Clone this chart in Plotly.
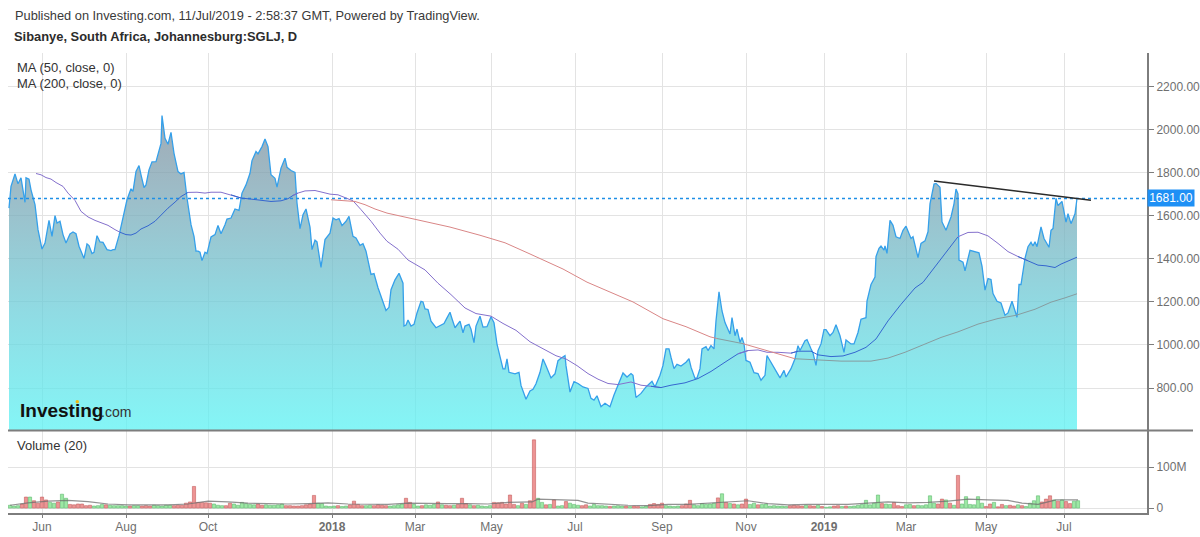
import plotly.graph_objects as go

# ---------- data ----------
price_pts = [
(0.5,1636),(1.5,1737),(3.5,1795),(5,1749),(6.5,1777),(7.5,1721),(8.5,1663),(9,1777),(10.5,1771),(11.5,1721),
(13.5,1652),(15,1536),(17,1446),(18.5,1474),(20.5,1579),(22,1505),(23.5,1601),(24.5,1567),(26,1575),(27.5,1513),
(29,1474),(31,1516),(32.5,1525),(34,1517),(35.5,1459),(38,1402),(39.5,1470),(40.5,1462),(42,1425),(43,1431),
(44.5,1508),(46,1479),(47.5,1477),(49.5,1443),(51.5,1439),(52.5,1443),(53.5,1443),(55.5,1508),(57.5,1598),(59.5,1675),
(61.5,1726),(62.5,1714),(64,1806),(65.5,1834),(66.5,1791),(68,1732),(69,1744),(70.5,1814),(72,1851),(74,1852),
(76.5,1937),(77,2066),(78.5,1961),(80,1933),(81.5,1988),(83,1891),(85,1806),(86.5,1795),(88,1802),(89.5,1683),
(91.5,1559),(93,1505),(94,1436),(95,1436),(96,1431),(97,1392),(98.5,1431),(99.5,1425),(101.5,1502),(103.5,1513),
(105,1555),(106.5,1517),(108.5,1559),(109.5,1585),(111.5,1590),(113.5,1632),(115.5,1626),(117,1706),(119,1744),(121,1798),
(122,1857),(124,1899),(125,1888),(127,1922),(128.5,1957),(130,1922),(131.5,1791),(133.5,1775),(134.5,1734),(136.5,1822),
(138.5,1868),(139.5,1826),(141.5,1811),(143.5,1802),(144.5,1660),(146,1541),(147.5,1605),(149,1632),(151,1548),(152,1443),
(153.5,1487),(154.5,1479),(156.5,1361),(158.5,1490),(161,1520),(162.5,1590),(164,1582),(165.5,1587),(167,1555),(169,1575),
(170.5,1598),(172.5,1505),(174,1497),(176,1463),(177.5,1471),(179,1436),(181.5,1328),(183,1332),(185,1266),(187,1212),
(189,1160),(190.5,1175),(191.5,1257),(193.5,1303),(195.5,1333),(197.5,1287),(198,1088),(199,1093),(200,1116),(201.5,1088),
(203,1096),(204.5,1149),(206.5,1203),(207.5,1200),(208.5,1168),(210,1165),(211.5,1111),(214,1080),(216,1091),(218,1100),
(219.5,1126),(221,1152),(222,1122),(223.5,1080),(226,1111),(227.5,1057),(228.5,1088),(230.5,1096),(231.5,1073),(233,1011),
(234,1088),(236,1134),(237.5,1083),(239.5,1085),(241.5,1131),(243,1103),(244.5,1004),(246,950),(247.5,889),(248.5,889),
(249.5,935),(250.5,873),(252,870),(253.5,866),(255.5,873),(256.5,812),(259,748),(261,786),(262.5,794),(264,820),
(266,873),(267.5,935),(269,904),(271.5,847),(273.5,866),(275,927),(276.5,938),(278.5,950),(279,904),(281,781),
(283,830),(284.5,824),(285,821),(287.5,805),(290,798),(291.5,752),(293,744),(294.5,764),(296.5,713),(298.5,729),
(299.5,724),(301,713),(303,767),(305,813),(307.5,870),(309.5,851),(311.5,867),(312.5,859),(314,756),(316.5,775),
(319,805),(322,831),(323.5,805),(326,859),(327.5,905),(329,982),(330.5,982),(331.5,943),(333,890),(334.5,910),
(336.5,902),(339,920),(340.5,936),(341.5,897),(343.5,844),(344.5,847),(346,890),(347,982),(349,992),(350,974),
(351.5,997),(353,982),(354,1112),(355.5,1247),(357,1158),(358.5,1104),(361,1051),(362,1127),(363.5,1043),(364.5,1074),
(366,1012),(367,1035),(368,1005),(369,928),(371,920),(373,871),(375,867),(376.5,836),(378.5,859),(379.5,951),
(380,943),(382.5,905),(385,867),(386,847),(388,882),(389,851),(391.5,890),(393.5,936),(395,997),(396,974),
(398.5,1020),(399.5,1025),(401.5,982),(402.5,963),(404,905),(405,974),(406.5,1005),(408,1071),(409,1071),(411,1043),
(412.5,1058),(414,1094),(416,1043),(418,966),(419,1023),(421.5,1005),(423,1005),(425,1058),(426.5,1120),(429,1127),
(429.5,1204),(431.5,1281),(433.5,1316),(434,1411),(435.5,1449),(436.5,1460),(438,1441),(438.5,1460),(439.5,1426),(441,1579),
(442.5,1556),(444,1503),(446,1495),(447.5,1533),(449,1552),(451.5,1495),(452.5,1503),(455,1406),(456.5,1472),(458.5,1484),
(460,1526),(461,1656),(463,1748),(464,1751),(466,1733),(467,1572),(469,1533),(471.5,1595),(473,1656),(474,1725),
(475,1702),(475.5,1395),(477.5,1385),(478.5,1345),(481,1440),(483.5,1432),(485.5,1428),(487,1366),(488.5,1255),(490,1309),
(491.5,1304),(492.5,1239),(494.5,1203),(496.5,1195),(498.5,1138),(500,1149),(502,1203),(504.5,1129),(505.5,1281),(506.5,1281),
(508.5,1403),(510,1457),(511.5,1477),(512.5,1460),(513.5,1480),(514.5,1457),(515.5,1510),(516.5,1549),(518,1495),(520.5,1454),
(521.5,1533),(522.5,1541),(524,1682),(525,1648),(527,1667),(529,1571),(530,1610),(531.5,1564),(533.5,1610),(534.5,1681),
]
session = [p[0] for p in price_pts]
close = [p[1] for p in price_pts]

ma50_pts = [
(14,1797),(16.5,1791),(19,1778),(21.5,1771),(24,1755),(27.5,1737),(30,1706),(33.5,1672),(36.5,1621),(40,1595),
(43.5,1579),(46.5,1567),(50,1556),(53.5,1536),(56,1524),(59,1513),(61.5,1511),(64,1520),(66.5,1539),(70,1554),
(73.5,1575),(76.5,1605),(80,1636),(83.5,1664),(86.5,1690),(90,1709),(94.5,1710),(98.5,1706),(101.5,1710),(106.5,1710),
(111.5,1698),(116.5,1683),(121.5,1678),(126.5,1672),(131.5,1667),(136.5,1670),(140,1680),(142.5,1695),(145,1706),(148.5,1716),
(153.5,1718),(157.5,1709),(161,1701),(165,1698),(168.5,1686),(172.5,1670),(176.5,1629),(181.5,1575),(186,1520),(189.5,1482),
(195,1445),(200,1395),(208.5,1349),(215,1287),(221.5,1234),(228.5,1172),(234,1146),(241.5,1134),(247.5,1100),(254,1068),
(261,1015),(267.5,984),(274,950),(279,935),(284.5,904),(290,867),(295,841),(300,821),(305,816),(311.5,828),
(316.5,813),(321.5,808),(326.5,802),(331.5,813),(338.5,824),(345,844),(351.5,877),(358.5,920),(365,959),(370,974),
(375,977),(379.5,966),(385,966),(391.5,962),(395,971),(401.5,971),(405,954),(411.5,946),(417.5,949),(423.5,966),
(429,989),(434,1028),(440,1112),(446.5,1189),(453.5,1265),(457.5,1291),(463.5,1365),(470,1446),(475,1503),(480,1523),
(485,1524),(490,1507),(495,1472),(500,1434),(505,1411),(510,1392),(515,1371),(519,1368),(523.5,1360),(526.5,1376),
(531,1396),(534.5,1408),
]
ma200_pts = [
(161.5,1675),(168.5,1672),(173.5,1667),(178.5,1652),(183.5,1632),(189.5,1613),(196,1600),(206,1580),(221,1548),(236,1510),
(248.5,1475),(261,1423),(277.5,1353),(289.5,1292),(312.5,1200),(327.5,1122),(339,1085),(351,1038),(354.5,1030),(367.5,1006),
(381,969),(393.5,936),(401.5,933),(416.5,925),(431.5,925),(440,939),(448.5,966),(458.5,1005),(466.5,1035),(475,1061),
(485,1097),(495,1123),(504,1138),(513.5,1166),(521.5,1199),(528.5,1219),(534.5,1238),
]
trend_x = [463, 541.5]
trend_y = [1762, 1673]
last_price = 1681.00

volume = [
7,5,6,10,27,27,18,12,27,20,
14,12,15,34,24,9,8,10,10,6,
7,5,6,9,8,7,6,6,6,5,
5,6,6,5,6,5,7,6,5,7,
7,6,7,7,12,15,53,14,14,13,
12,10,7,6,6,12,10,7,14,11,
9,8,10,7,8,7,7,8,10,6,
6,5,5,6,8,10,31,12,11,5,
4,5,6,4,5,8,17,9,6,6,
7,6,8,7,6,5,6,8,10,24,
14,9,5,6,8,7,9,15,8,7,
6,7,9,24,11,8,6,7,5,4,
6,14,13,14,10,32,9,6,12,9,
18,167,24,14,8,9,20,5,6,16,
12,9,7,6,8,5,9,6,6,5,
4,5,6,5,5,4,5,4,3,5,
9,11,9,12,6,5,4,5,6,10,
19,8,6,11,9,10,12,25,35,14,
11,10,8,10,22,9,12,8,9,10,
5,6,5,5,4,6,7,6,5,7,
6,5,7,4,2,3,5,6,4,5,
4,5,7,9,19,8,12,32,11,10,
9,14,6,4,8,9,6,7,6,8,
30,12,10,22,20,12,7,80,10,28,
9,8,28,12,4,10,14,3,9,6,
7,5,8,6,4,12,18,30,15,22,
30,20,17,20,16,11,17,18,
]
volume_dir = (
"gggrrgrrrr" "ggrggrrrrr" "rgggrggggg" "rggrrrgggg" "grrrrrrrrr"
"rgggrrgggg" "ggrrgggggr" "rrrrrrrggg" "ggrggrrrrg" "grrrrggggr"
"rggrgggrgr" "rgrrrgrggg" "grrrrrrgrg" "rrggrgrggr" "gggrrggggg"
"rgggrgrrgg" "rrrrggggrr" "rggggggrgr" "grgrrggrgg" "gggggrrrrg"
"rrgrggrrgr" "ggggggggrg" "grrrggrggg" "ggrrgrgrgg" "ggggrrgrrg"
"rrgrggggrr" "rgrgrrgg"
)
vol_ma_x = [1,10,20,30,40,50,60,70,80,90,100,110,120,130,140,150,160,170,180,190,200,210,220,230,240,250,262,265,275,285,290,300,310,320,330,340,350,360,370,380,390,400,410,420,430,440,450,460,470,480,490,500,507,515,524,535]
vol_ma_y = [7,13,17,19,16,10,8,8,8,10,17,15,12,11,10,11,13,10,9,9,12,11,11,11,10,14,15,22,21,19,12,9,7,6,9,9,12,15,18,11,8,9,9,9,12,15,13,14,17,22,20,19,12,9,20,20]

x_tickvals = [17,59,100,162,203.5,241.75,283.5,327,369,408,449,489,528]
x_ticktext = ["Jun","Aug","Oct","<b>2018</b>","Mar","May","Jul","Sep","Nov","<b>2019</b>","Mar","May","Jul"]
price_ticks = [800,1000,1200,1400,1600,1800,2000,2200]
vol_tickvals = [0,100]
vol_ticktext = ["0","100M"]

# ---------- styles ----------
FONT = "Liberation Sans"
GRID = "#e3e3e3"
AXIS = "#7d7d7d"
LABEL = "#6f6f6f"
X0, X1 = 8/1200, 1147/1200
def py(p): return 1 - p/537

fig = go.Figure()
fig.add_trace(go.Scatter(
    x=session, y=close, mode="lines", xaxis="x2", yaxis="y",
    line=dict(color="#35a0ea", width=1.3),
    fill="tozeroy",
    fillgradient=dict(type="vertical", start=603, stop=2066,
        colorscale=[[0,"rgba(91,243,244,0.75)"],[0.38,"rgba(107,207,218,0.75)"],
                    [0.75,"rgba(124,167,182,0.75)"],[1,"rgba(128,142,156,0.75)"]]),
    hoverinfo="skip", showlegend=False))
fig.add_trace(go.Scatter(x=[0,569.5], y=[last_price,last_price], mode="lines", xaxis="x2", yaxis="y",
    line=dict(color="#1e8fe6", width=1.4, dash="dot"), showlegend=False))

def bands(pts, spec, width):
    for a, b, col in spec:
        i0 = max([i for i,p in enumerate(pts) if p[0] <= a], default=0)
        i1 = min([i for i,p in enumerate(pts) if p[0] >= b], default=len(pts)-1)
        seg = pts[i0:i1+1]
        fig.add_trace(go.Scatter(x=[p[0] for p in seg], y=[p[1] for p in seg], mode="lines",
            xaxis="x2", yaxis="y", line=dict(color=col, width=width), showlegend=False))

P, B = "#8470cc", "#3566cf"
bands(ma50_pts, [(14,56,P),(56,90,B),(90,116,P),(116,143,B),(143,326,P),(326,368,B),
                 (368,393,P),(393,475,B),(475,508,P),(508,535,B)], 1.0)
R, G = "#d98686", "#879c9f"
bands(ma200_pts, [(161.5,354.5,R),(354.5,367.5,G),(367.5,393.5,R),(393.5,535,G)], 1.0)

fig.add_trace(go.Scatter(x=trend_x, y=trend_y, mode="lines", xaxis="x2", yaxis="y",
    line=dict(color="#2b2b2b", width=1.5), showlegend=False))

vol_x = [1+2*i for i in range(len(volume))]
fig.add_trace(go.Bar(x=vol_x, y=volume, width=1.6, xaxis="x", yaxis="y2",
    marker=dict(color=["rgba(232,120,120,0.8)" if d=="r" else "rgba(130,226,140,0.8)" for d in volume_dir],
                line=dict(color=["#c46060" if d=="r" else "#60b870" for d in volume_dir], width=0.6)),
    showlegend=False))
fig.add_trace(go.Scatter(x=vol_ma_x, y=vol_ma_y, mode="lines", xaxis="x", yaxis="y2",
    line=dict(color="rgba(110,110,110,0.75)", width=1.2), showlegend=False))

def text(x, y, s, size=12, color="#333333", anchor="left", **kw):
    fig.add_annotation(x=x/1200, y=py(y), xref="paper", yref="paper", text=s, showarrow=False,
        xanchor=anchor, yanchor="middle", borderpad=0, font=dict(family=FONT, size=size, color=color), **kw)

text(14, 16, "Published on Investing.com, 11/Jul/2019 - 2:58:37 GMT, Powered by TradingView.", 12.8, "#3a3a3a")
text(13, 37, "<b>Sibanye, South Africa, Johannesburg:SGLJ, D</b>", 12.9, "#2c2c2c")
text(16, 68, "MA (50, close, 0)", 13, "#333333")
text(16, 84, "MA (200, close, 0)", 13, "#333333")
text(16, 447, "Volume (20)", 13, "#333333")
text(19, 412, "<b>Investing</b>", 19, "#111111")
text(100, 414, ".com", 14, "#333333")
fig.add_shape(type="circle", xref="paper", yref="paper", x0=75.5/1200, x1=79/1200, y0=py(405), y1=py(401.5),
    line=dict(width=0), fillcolor="#f2b90f", layer="above")

fig.add_annotation(x=1147/1200, y=last_price, xref="paper", yref="y", text="1681.00", showarrow=False,
    xanchor="left", yanchor="middle", width=44, height=14, bgcolor="#1e90f5", borderpad=1,
    font=dict(family=FONT, size=12, color="white"))

fig.add_shape(type="line", xref="paper", yref="paper", x0=X0, x1=1193/1200, y0=py(432), y1=py(432),
    line=dict(color=AXIS, width=2), layer="above")

common_x = dict(range=[0,569.5], domain=[X0,X1], tickmode="array", tickvals=x_tickvals,
    showgrid=True, gridcolor=GRID, gridwidth=1.4, zeroline=False, fixedrange=True)
fig.update_layout(
    width=1200, height=537, autosize=False, margin=dict(l=0,r=0,t=0,b=0),
    paper_bgcolor="white", plot_bgcolor="white", barmode="overlay", showlegend=False,
    font=dict(family=FONT, size=12, color=LABEL),
    xaxis=dict(**common_x, anchor="y2", ticktext=x_ticktext, ticks="outside", ticklen=3, tickcolor=AXIS,
        ticklabelstandoff=-1,
        showline=True, linecolor=AXIS, linewidth=2, tickfont=dict(family=FONT,size=12,color=LABEL), tickangle=0),
    xaxis2=dict(**common_x, anchor="y", showticklabels=False, ticks=""),
    yaxis=dict(domain=[py(432),py(53)], range=[603,2358], side="right", anchor="x2",
        tickmode="array", tickvals=price_ticks, ticktext=[f"{v:.2f}" for v in price_ticks],
        ticks="outside", ticklen=5, tickcolor=AXIS, showline=True, linecolor=AXIS, linewidth=2,
        showgrid=True, gridcolor=GRID, gridwidth=1.4, zeroline=False, tickfont=dict(family=FONT,size=12,color=LABEL)),
    yaxis2=dict(domain=[py(515),py(432)], range=[-12.2,190.2], side="right", anchor="x",
        tickmode="array", tickvals=vol_tickvals, ticktext=vol_ticktext,
        ticks="outside", ticklen=5, tickcolor=AXIS, showline=True, linecolor=AXIS, linewidth=2,
        showgrid=True, gridcolor=GRID, gridwidth=1.4, zeroline=False, tickfont=dict(family=FONT,size=12,color=LABEL)),
)
fig.write_html("out.html", config={"displayModeBar": False},
               post_script="document.body.style.margin='0';document.body.style.overflow='hidden';")
